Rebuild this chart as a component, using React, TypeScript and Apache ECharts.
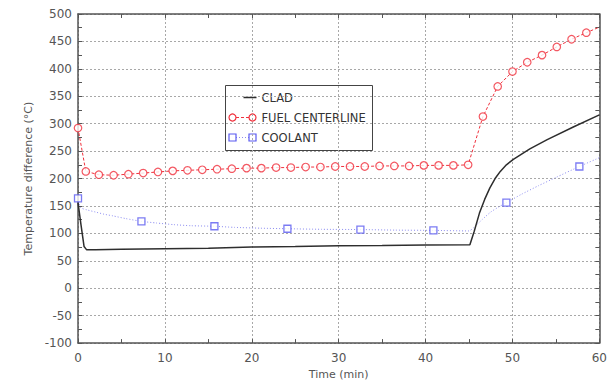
import React, { useEffect, useRef } from "react";
import * as echarts from "echarts";

// Series names (legend order)
const seriesNames = ["CLAD", "FUEL CENTERLINE", "COOLANT"];

// Axis ranges
const timeRange = [0, 60];
const tempRange = [-100, 500];
const timeStep = 10;
const tempStep = 50;

// CLAD temperature difference vs time (min)
const cladTime = [0, 0.35, 0.7, 1.0, 2, 5, 10, 15, 20, 25, 30, 35, 40, 45.1, 45.6, 46.2, 46.8, 47.4, 48.0, 48.6, 49.3, 50.1, 52, 54, 57, 60];
const cladTemp = [156, 115, 76, 70, 70, 71, 72, 73, 75, 76, 77.5, 78, 79, 79.5, 104, 137, 162, 183, 200, 213, 225, 235, 254, 271, 294, 316];

// FUEL CENTERLINE: marked samples, then the curve's final point
const fuelTime = [0, 0.9, 2.4, 4.1, 5.8, 7.5, 9.2, 10.9, 12.6, 14.3, 16.0, 17.7, 19.4, 21.1, 22.8, 24.5, 26.2, 27.9, 29.6, 31.3, 33.0, 34.7, 36.4, 38.1, 39.8, 41.5, 43.2, 44.9, 46.6, 48.3, 50.0, 51.7, 53.4, 55.1, 56.8, 58.5];
const fuelTemp = [292, 213, 207, 206, 208, 210, 212, 214, 215, 216, 217, 218, 219, 219, 220, 220, 221, 221, 222, 222, 222, 223, 223, 223, 224, 224, 224, 225, 313, 368, 395, 412, 425, 440, 454, 466];
const fuelEnd = [60, 476];

// COOLANT curve and its marked samples
const coolantTime = [0, 0.3, 1, 2, 3, 4, 5.5, 7.3, 9, 11, 13, 15.7, 18, 21, 24.1, 28, 32.5, 36.5, 40.9, 45, 45.5, 46.5, 47.5, 48.5, 49.3, 51, 53, 55, 57.7, 60];
const coolantTemp = [164, 147, 143, 139, 135, 132, 127, 122, 119, 116, 114, 113, 111, 109.5, 108.5, 107.5, 107, 106, 105.5, 104.5, 110, 125, 139, 149, 156, 171, 187, 202, 222, 238];
const coolantMarkTime = [0, 7.3, 15.7, 24.1, 32.5, 40.9, 49.3, 57.7];
const coolantMarkTemp = [164, 122, 113, 108.5, 107, 105.5, 156, 222];

const zip = (xs: number[], ys: number[]) => xs.map((x, i) => [x, ys[i]]);

const CLAD_COLOR = "#2e2e2e";
const FUEL_COLOR = "#f0303c";
const COOL_COLOR = "#5a5af0";
const COOL_LINE = "#8c8cf0";
const AXIS_COLOR = "#555";
const TEXT_COLOR = "#555";
const FONT = "DejaVu Sans";

function legendGraphic() {
  const left = 225;
  const top = 85;
  const rowY = [12, 32, 52];
  const children: any[] = [
    {
      type: "rect",
      shape: { x: 0, y: 0, width: 147, height: 65 },
      style: { fill: "#fff", stroke: "#444", lineWidth: 1 },
    },
    // CLAD sample
    {
      type: "line",
      shape: { x1: 18, y1: rowY[0], x2: 31, y2: rowY[0] },
      style: { stroke: CLAD_COLOR, lineWidth: 1.5 },
    },
    // FUEL CENTERLINE sample
    {
      type: "line",
      shape: { x1: 10.5, y1: rowY[1], x2: 23.5, y2: rowY[1] },
      style: { stroke: FUEL_COLOR, lineWidth: 1, lineDash: [3, 2] },
    },
    {
      type: "circle",
      shape: { cx: 7, cy: rowY[1], r: 3.5 },
      style: { fill: "#fff", stroke: FUEL_COLOR, lineWidth: 1.2 },
    },
    {
      type: "circle",
      shape: { cx: 27, cy: rowY[1], r: 3.5 },
      style: { fill: "#fff", stroke: FUEL_COLOR, lineWidth: 1.2 },
    },
    // COOLANT sample
    {
      type: "line",
      shape: { x1: 10.5, y1: rowY[2], x2: 23.5, y2: rowY[2] },
      style: { stroke: COOL_LINE, lineWidth: 1, lineDash: [1, 2] },
    },
    {
      type: "rect",
      shape: { x: 3.5, y: rowY[2] - 3.5, width: 7, height: 7 },
      style: { fill: "#fff", stroke: COOL_COLOR, lineWidth: 1.2 },
    },
    {
      type: "rect",
      shape: { x: 23.5, y: rowY[2] - 3.5, width: 7, height: 7 },
      style: { fill: "#fff", stroke: COOL_COLOR, lineWidth: 1.2 },
    },
  ];
  seriesNames.forEach((name, i) => {
    children.push({
      type: "text",
      x: 36,
      y: rowY[i],
      style: {
        text: name,
        fill: "#333",
        font: `11.5px "${FONT}"`,
        verticalAlign: "middle",
        align: "left",
      },
    });
  });
  return { type: "group", left, top, children };
}

function buildOption(): any {
  const gridLine = { show: true, lineStyle: { color: "#a8a8a8", type: [2, 2], width: 1 } };
  const frameAxis = {
    axisLine: { show: true, onZero: false, lineStyle: { color: AXIS_COLOR, width: 1.5 } },
    axisTick: { show: true, inside: true, length: 4, lineStyle: { color: AXIS_COLOR } },
    minorTick: { show: true, splitNumber: 2, length: 4, lineStyle: { color: AXIS_COLOR } },
  };
  const labelStyle = { color: TEXT_COLOR, fontFamily: FONT, fontSize: 12 };
  return {
    animation: false,
    backgroundColor: "#fff",
    grid: { left: 78, right: 7, top: 14, bottom: 40, containLabel: false },
    xAxis: [
      {
        type: "value",
        min: timeRange[0],
        max: timeRange[1],
        interval: timeStep,
        position: "bottom",
        name: "Time (min)",
        nameLocation: "middle",
        nameGap: 24,
        nameTextStyle: { color: TEXT_COLOR, fontFamily: FONT, fontSize: 11 },
        axisLabel: { ...labelStyle, margin: 9 },
        splitLine: gridLine,
        ...frameAxis,
      },
      {
        type: "value",
        min: timeRange[0],
        max: timeRange[1],
        interval: timeStep,
        position: "top",
        axisLabel: { show: false },
        splitLine: { show: false },
        ...frameAxis,
      },
    ],
    yAxis: [
      {
        type: "value",
        min: tempRange[0],
        max: tempRange[1],
        interval: tempStep,
        position: "left",
        name: "Temperature difference (°C)",
        nameLocation: "middle",
        nameGap: 41,
        nameTextStyle: { color: TEXT_COLOR, fontFamily: FONT, fontSize: 11 },
        axisLabel: { ...labelStyle, margin: 6 },
        splitLine: gridLine,
        ...frameAxis,
      },
      {
        type: "value",
        min: tempRange[0],
        max: tempRange[1],
        interval: tempStep,
        position: "right",
        axisLabel: { show: false },
        splitLine: { show: false },
        ...frameAxis,
      },
    ],
    series: [
      {
        name: seriesNames[0],
        type: "line",
        data: zip(cladTime, cladTemp),
        showSymbol: false,
        lineStyle: { color: CLAD_COLOR, width: 1.5 },
        z: 3,
      },
      {
        name: seriesNames[2],
        type: "line",
        data: zip(coolantTime, coolantTemp),
        showSymbol: false,
        smooth: 0.2,
        lineStyle: { color: COOL_LINE, width: 1, type: [1, 2] },
        z: 2,
      },
      {
        name: seriesNames[2] + " markers",
        type: "scatter",
        data: zip(coolantMarkTime, coolantMarkTemp),
        symbol: "rect",
        symbolSize: 7,
        itemStyle: { color: "#fff", borderColor: COOL_COLOR, borderWidth: 1.3 },
        z: 4,
      },
      {
        name: seriesNames[1],
        type: "line",
        data: [...zip(fuelTime, fuelTemp), fuelEnd],
        showSymbol: false,
        lineStyle: { color: FUEL_COLOR, width: 1, type: [3, 2] },
        z: 3,
      },
      {
        name: seriesNames[1] + " markers",
        type: "scatter",
        data: zip(fuelTime, fuelTemp),
        symbol: "circle",
        symbolSize: 7.5,
        itemStyle: { color: "#fff", borderColor: FUEL_COLOR, borderWidth: 1.2 },
        z: 4,
      },
    ],
    graphic: [legendGraphic()],
  };
}

export default function App() {
  const ref = useRef<HTMLDivElement>(null);
  useEffect(() => {
    if (!ref.current) return;
    const chart = echarts.init(ref.current, null, { renderer: "svg" });
    chart.setOption(buildOption());
    return () => chart.dispose();
  }, []);
  return (
    <div
      ref={ref}
      style={{ position: "absolute", left: 0, top: 0, width: 610, height: 385, background: "#fff" }}
    />
  );
}
